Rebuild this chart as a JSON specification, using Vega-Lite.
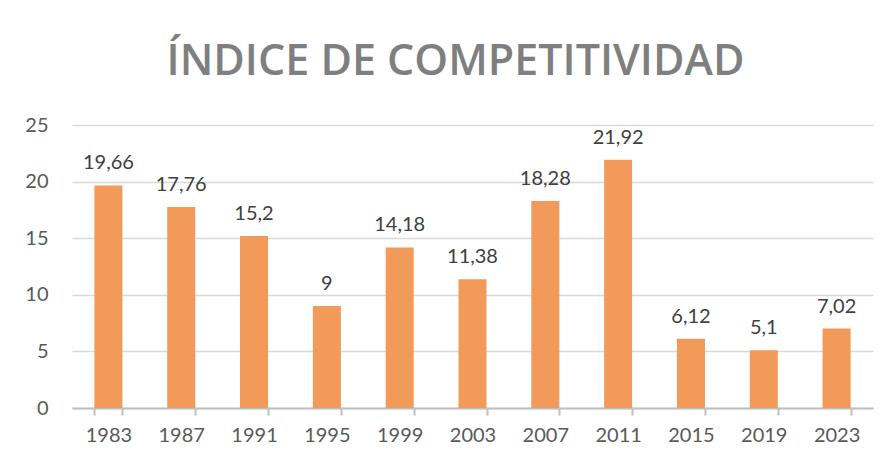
{
  "$schema": "https://vega.github.io/schema/vega-lite/v6.json",
  "width": 801,
  "height": 283,
  "autosize": {"type": "none"},
  "padding": {"left": 72, "top": 125, "right": 16, "bottom": 57},
  "background": "white",
  "config": {
    "locale": {"number": {"decimal": ",", "thousands": ".", "grouping": [3], "currency": ["", " €"]}},
    "view": {"stroke": null},
    "font": "Lato"
  },
  "title": {
    "text": "ÍNDICE DE COMPETITIVIDAD",
    "font": "Open Sans",
    "fontSize": 43,
    "fontWeight": 600,
    "color": "#7f7f7f",
    "anchor": "middle",
    "baseline": "alphabetic",
    "offset": -3,
    "dx": -17
  },
  "data": {
    "values": [
      {"year": "1983", "value": 19.66},
      {"year": "1987", "value": 17.76},
      {"year": "1991", "value": 15.2},
      {"year": "1995", "value": 9},
      {"year": "1999", "value": 14.18},
      {"year": "2003", "value": 11.38},
      {"year": "2007", "value": 18.28},
      {"year": "2011", "value": 21.92},
      {"year": "2015", "value": 6.12},
      {"year": "2019", "value": 5.1},
      {"year": "2023", "value": 7.02}
    ]
  },
  "encoding": {
    "x": {
      "field": "year",
      "type": "nominal",
      "sort": null,
      "scale": {"paddingInner": 0.615, "paddingOuter": 0.3075},
      "axis": {
        "title": null,
        "labelAngle": 0,
        "labelFont": "Lato",
        "labelFontSize": 20,
        "labelColor": "#595959",
        "labelPadding": 10,
        "domainColor": "#bfbfbf",
        "domainWidth": 2,
        "tickColor": "#bfbfbf",
        "tickWidth": 2,
        "tickSize": 7,
        "tickBand": "extent",
        "grid": false
      }
    },
    "y": {
      "field": "value",
      "type": "quantitative",
      "scale": {"domain": [0, 25], "nice": false},
      "axis": {
        "title": null,
        "values": [0, 5, 10, 15, 20, 25],
        "labelFont": "Lato",
        "labelFontSize": 20,
        "labelColor": "#595959",
        "labelPadding": 24,
        "domain": false,
        "ticks": false,
        "grid": true,
        "gridColor": "#d9d9d9",
        "gridWidth": 1.4
      }
    }
  },
  "layer": [
    {"mark": {"type": "bar", "color": "#f29a5a"}},
    {
      "mark": {"type": "text", "baseline": "alphabetic", "dy": -16, "font": "Lato", "fontSize": 20, "color": "#404040"},
      "encoding": {"text": {"field": "value", "type": "quantitative", "format": "~g"}}
    }
  ]
}
